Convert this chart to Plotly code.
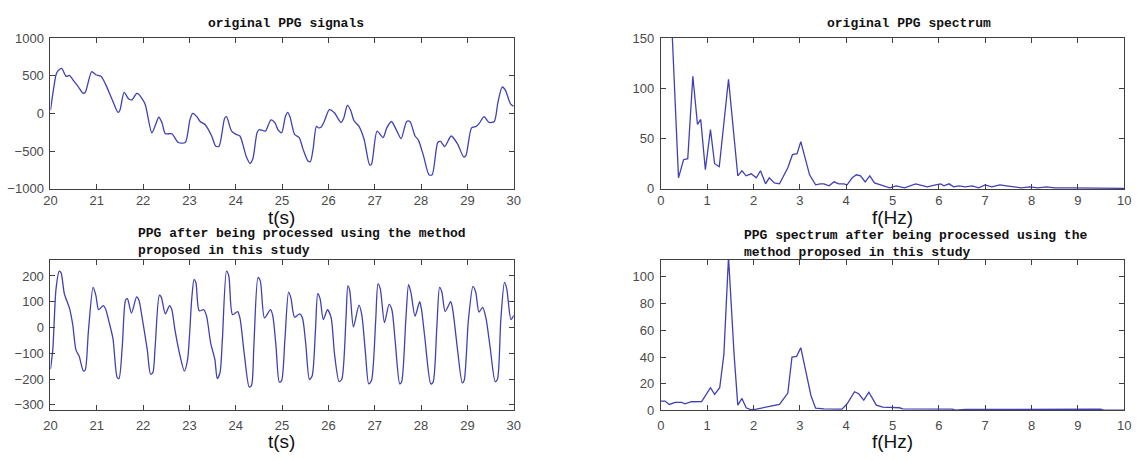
import plotly.graph_objects as go

W, H = 1142, 461

# ---- original PPG signal (time s, amplitude) ----
t_orig = [20.0, 20.12, 20.15, 20.24, 20.34, 20.41, 20.48, 20.59, 20.7, 20.75, 20.89, 20.98, 21.09, 21.19,
          21.34, 21.46, 21.5, 21.59, 21.69, 21.76, 21.86, 21.9, 22.04, 22.19, 22.34, 22.41, 22.48, 22.62,
          22.76, 22.91, 23.01, 23.07, 23.16, 23.23, 23.34, 23.48, 23.57, 23.64, 23.76, 23.8, 23.91, 24.01,
          24.09, 24.23, 24.31, 24.37, 24.46, 24.51, 24.58, 24.64, 24.76, 24.85, 24.91, 24.99, 25.07,
          25.12, 25.17, 25.27, 25.37, 25.45, 25.56, 25.61, 25.67, 25.74, 25.79, 25.84, 25.91, 26.02,
          26.13, 26.27, 26.33, 26.41, 26.48, 26.55, 26.66, 26.77, 26.89, 26.93, 27.05, 27.18, 27.26,
          27.36, 27.48, 27.57, 27.69, 27.76, 27.87, 27.94, 28.05, 28.17, 28.24, 28.36, 28.42, 28.51,
          28.65, 28.79, 28.92, 28.97, 29.09, 29.19, 29.26, 29.36, 29.47, 29.58, 29.66, 29.75, 29.82,
          29.93, 30.0]
v_orig = [43, 513, 555, 598, 491, 504, 449, 363, 269, 278, 555, 513, 491, 385,
          171, 13, 43, 278, 192, 180, 265, 256, 128, -256, -51, -128, -269, -269,
          -385, -385, -85, 0, -43, -107, -150, -299, -436, -436, -64, -43, -235, -278,
          -299, -577, -662, -598, -256, -214, -226, -235, -85, -128, -214, -256, -43,
          15, -43, -278, -320, -470, -632, -641, -470, -171, -192, -184, -107, 51,
          9, -120, -64, 107, 43, -94, -171, -342, -684, -675, -235, -320, -192,
          -107, -235, -333, -107, -107, -299, -350, -556, -812, -812, -385, -372, -440,
          -299, -406, -577, -556, -192, -171, -128, -43, -120, -107, 150, 350, 308,
          128, 94]

# ---- processed PPG signal ----
t_proc = [20.0, 20.05, 20.12, 20.19, 20.23, 20.3, 20.41, 20.48, 20.55, 20.62, 20.71, 20.75, 20.82, 20.92,
          20.98, 21.04, 21.14, 21.19, 21.26, 21.35, 21.44, 21.48, 21.55, 21.62, 21.66, 21.75, 21.86,
          21.91, 21.98, 22.09, 22.16, 22.21, 22.26, 22.35, 22.39, 22.48, 22.57, 22.62, 22.69, 22.8,
          22.89, 22.96, 23.05, 23.1, 23.14, 23.21, 23.31, 23.37, 23.46, 23.55, 23.6, 23.66, 23.71,
          23.8, 23.85, 23.93, 24.04, 24.09, 24.19, 24.29, 24.34, 24.39, 24.48, 24.53, 24.62, 24.75,
          24.8, 24.87, 24.94, 24.99, 25.06, 25.14, 25.19, 25.27, 25.38, 25.44, 25.51, 25.59, 25.65,
          25.72, 25.77, 25.82, 25.89, 25.98, 26.06, 26.13, 26.23, 26.29, 26.38, 26.42, 26.46, 26.54,
          26.66, 26.72, 26.8, 26.87, 26.93, 27.02, 27.07, 27.12, 27.21, 27.31, 27.37, 27.44, 27.54,
          27.58, 27.67, 27.73, 27.78, 27.87, 27.97, 28.01, 28.08, 28.21, 28.26, 28.34, 28.4, 28.45,
          28.52, 28.64, 28.69, 28.78, 28.89, 28.93, 29.02, 29.12, 29.18, 29.25, 29.33, 29.4, 29.49,
          29.6, 29.65, 29.72, 29.8, 29.85, 29.94, 30.0]
v_proc = [-162, -87, 150, 219, 212, 131, 75, 12, -87, -112, -169, -165, -12, 156,
          125, 69, 85, 72, 25, -44, -194, -198, -75, 106, 112, 56, 119,
          106, 37, -87, -181, -175, -75, 125, 119, 53, 85, 69, -12, -112,
          -169, -125, 112, 187, 175, 65, 69, 44, -62, -125, -198, -175, -50,
          219, 200, 50, 62, 37, -112, -231, -225, -75, 194, 181, 37, 69,
          44, -75, -212, -206, -50, 137, 115, 40, 53, 37, -62, -202, -187,
          -12, 131, 112, 31, 69, 37, -100, -210, -200, 37, 162, 144, 2,
          87, 50, -100, -219, -206, 25, 169, 150, 19, 90, 69, -50, -219,
          -212, 25, 166, 137, 44, 100, 69, -37, -219, -212, 0, 156, 137,
          62, 100, 62, -75, -215, -206, 25, 160, 137, 60, 78, 37, -75,
          -210, -200, 25, 175, 150, 31, 47]

# ---- original PPG spectrum ----
f_orig = [0.2, 0.38, 0.49, 0.58, 0.69, 0.79, 0.86, 0.96, 1.07, 1.16, 1.26, 1.46, 1.66, 1.75, 1.84, 1.95,
          2.06, 2.15, 2.26, 2.34, 2.45, 2.56, 2.74, 2.84, 2.94, 3.02, 3.21, 3.34, 3.44, 3.52, 3.63,
          3.74, 3.84, 3.95, 4.02, 4.13, 4.22, 4.31, 4.41, 4.51, 4.61, 4.79, 4.94, 5.08, 5.26, 5.5,
          5.75, 5.93, 6.04, 6.11, 6.22, 6.32, 6.43, 6.57, 6.72, 6.86, 7.0, 7.14, 7.32, 7.46, 7.6,
          7.78, 7.96, 8.14, 8.32, 8.5, 8.85, 9.2, 9.7, 10.0]
s_orig = [200, 11, 29, 30, 112, 64, 69, 19, 59, 25, 22, 109, 13, 18, 13, 15,
          11, 18, 5, 11, 6, 5, 21, 34, 35, 47, 14, 4, 5, 5, 3,
          7, 5, 5, 4, 11, 14, 13, 7, 13, 6, 3, 1, 3, 1, 5,
          2, 4, 5, 3, 5, 2, 3, 2, 3, 1, 4, 2, 4, 3, 2,
          1, 2, 1, 2, 1, 1, 1, 0.7, 0.5]

# ---- processed PPG spectrum ----
f_proc = [0.0, 0.09, 0.18, 0.31, 0.45, 0.52, 0.66, 0.88, 1.07, 1.16, 1.27, 1.36, 1.46, 1.58, 1.66, 1.75,
          1.84, 1.95, 2.06, 2.24, 2.38, 2.56, 2.74, 2.83, 2.93, 3.02, 3.13, 3.24, 3.34, 3.52, 3.91,
          4.02, 4.18, 4.27, 4.38, 4.49, 4.65, 4.79, 5.15, 5.22, 6.29, 6.36, 6.57, 9.49, 9.56, 10.0]
s_proc = [7, 7, 4.5, 6, 6, 5, 6.5, 6.7, 17, 12, 17, 42, 115, 42, 4, 9,
          2, 0.5, 1, 2.4, 3.4, 4.5, 13, 40, 40.5, 47, 29, 11, 1.7, 1.2, 1,
          5, 14, 12.5, 7.7, 13.7, 4, 2.4, 2, 1.2, 1, 0.3, 0.7, 1, 0.3, 0.3]

LINE = "#4040b4"
TICKFONT = dict(family="Liberation Sans, Arial", size=13, color="#4a4a4a")
TITLEFONT = dict(family="Liberation Mono, Courier New, monospace", size=13, color="#111111")
LABELFONT = dict(family="Liberation Sans, Arial", size=19, color="#111111")


def px_x(x):
    return x / W


def px_y(y):
    return 1 - y / H


def axis(domain, rng, dtick, anchor, standoff=3):
    return dict(domain=domain, range=rng, dtick=dtick, tick0=0, ticks="inside", ticklen=5,
                tickcolor="#404040", showline=True, linecolor="#404040", linewidth=1,
                mirror="ticks", showgrid=False, zeroline=False, tickfont=TICKFONT,
                anchor=anchor, ticklabelstandoff=standoff)


fig = go.Figure()
fig.add_trace(go.Scatter(x=t_orig, y=v_orig, mode="lines", line=dict(color=LINE, width=1.3, shape="spline", smoothing=0.7),
                         xaxis="x", yaxis="y", showlegend=False))
fig.add_trace(go.Scatter(x=f_orig, y=s_orig, mode="lines", line=dict(color=LINE, width=1.3),
                         xaxis="x2", yaxis="y2", showlegend=False))
fig.add_trace(go.Scatter(x=t_proc, y=v_proc, mode="lines", line=dict(color=LINE, width=1.3, shape="spline", smoothing=0.7),
                         xaxis="x3", yaxis="y3", showlegend=False))
fig.add_trace(go.Scatter(x=f_proc, y=s_proc, mode="lines", line=dict(color=LINE, width=1.3),
                         xaxis="x4", yaxis="y4", showlegend=False))

dom_xl = [px_x(44), px_x(513)]
dom_xr = [px_x(662), px_x(1131)]
dom_yt = [px_y(188), px_y(32)]
dom_yb = [px_y(417), px_y(261)]

annotations = [
    dict(text="<b>original PPG signals</b>", x=px_x(282), y=px_y(17), xref="paper", yref="paper",
         xanchor="center", yanchor="middle", showarrow=False, font=TITLEFONT),
    dict(text="<b>original PPG spectrum</b>", x=px_x(913), y=px_y(17), xref="paper", yref="paper",
         xanchor="center", yanchor="middle", showarrow=False, font=TITLEFONT),
    dict(text="<b>PPG after being processed using the method<br>proposed in this study</b>",
         x=px_x(131), y=px_y(243), xref="paper", yref="paper", xanchor="left", yanchor="middle",
         align="left", showarrow=False, font=TITLEFONT),
    dict(text="<b>PPG spectrum after being processed using the<br>method proposed in this study</b>",
         x=px_x(744), y=px_y(245), xref="paper", yref="paper", xanchor="left", yanchor="middle",
         align="left", showarrow=False, font=TITLEFONT),
    dict(text="t(s)", x=px_x(278), y=px_y(218), xref="paper", yref="paper", xanchor="center",
         yanchor="middle", showarrow=False, font=LABELFONT),
    dict(text="f(Hz)", x=px_x(896), y=px_y(218), xref="paper", yref="paper", xanchor="center",
         yanchor="middle", showarrow=False, font=LABELFONT),
    dict(text="t(s)", x=px_x(278), y=px_y(449), xref="paper", yref="paper", xanchor="center",
         yanchor="middle", showarrow=False, font=LABELFONT),
    dict(text="f(Hz)", x=px_x(896), y=px_y(449), xref="paper", yref="paper", xanchor="center",
         yanchor="middle", showarrow=False, font=LABELFONT),
]

fig.update_layout(
    width=W, height=H, autosize=False,
    margin=dict(l=0, r=0, t=0, b=0),
    paper_bgcolor="white", plot_bgcolor="white",
    xaxis=axis(dom_xl, [20, 30], 1, "y", 0),
    yaxis=axis(dom_yt, [-1000, 1000], 500, "x"),
    xaxis2=axis(dom_xr, [0, 10], 1, "y2", 0),
    yaxis2=axis(dom_yt, [0, 150], 50, "x2"),
    xaxis3=axis(dom_xl, [20, 30], 1, "y3", 3),
    yaxis3=axis(dom_yb, [-322, 264], 100, "x3"),
    xaxis4=axis(dom_xr, [0, 10], 1, "y4", 3),
    yaxis4=axis(dom_yb, [0, 113], 20, "x4"),
    annotations=annotations,
)

fig.write_html("out.html")
